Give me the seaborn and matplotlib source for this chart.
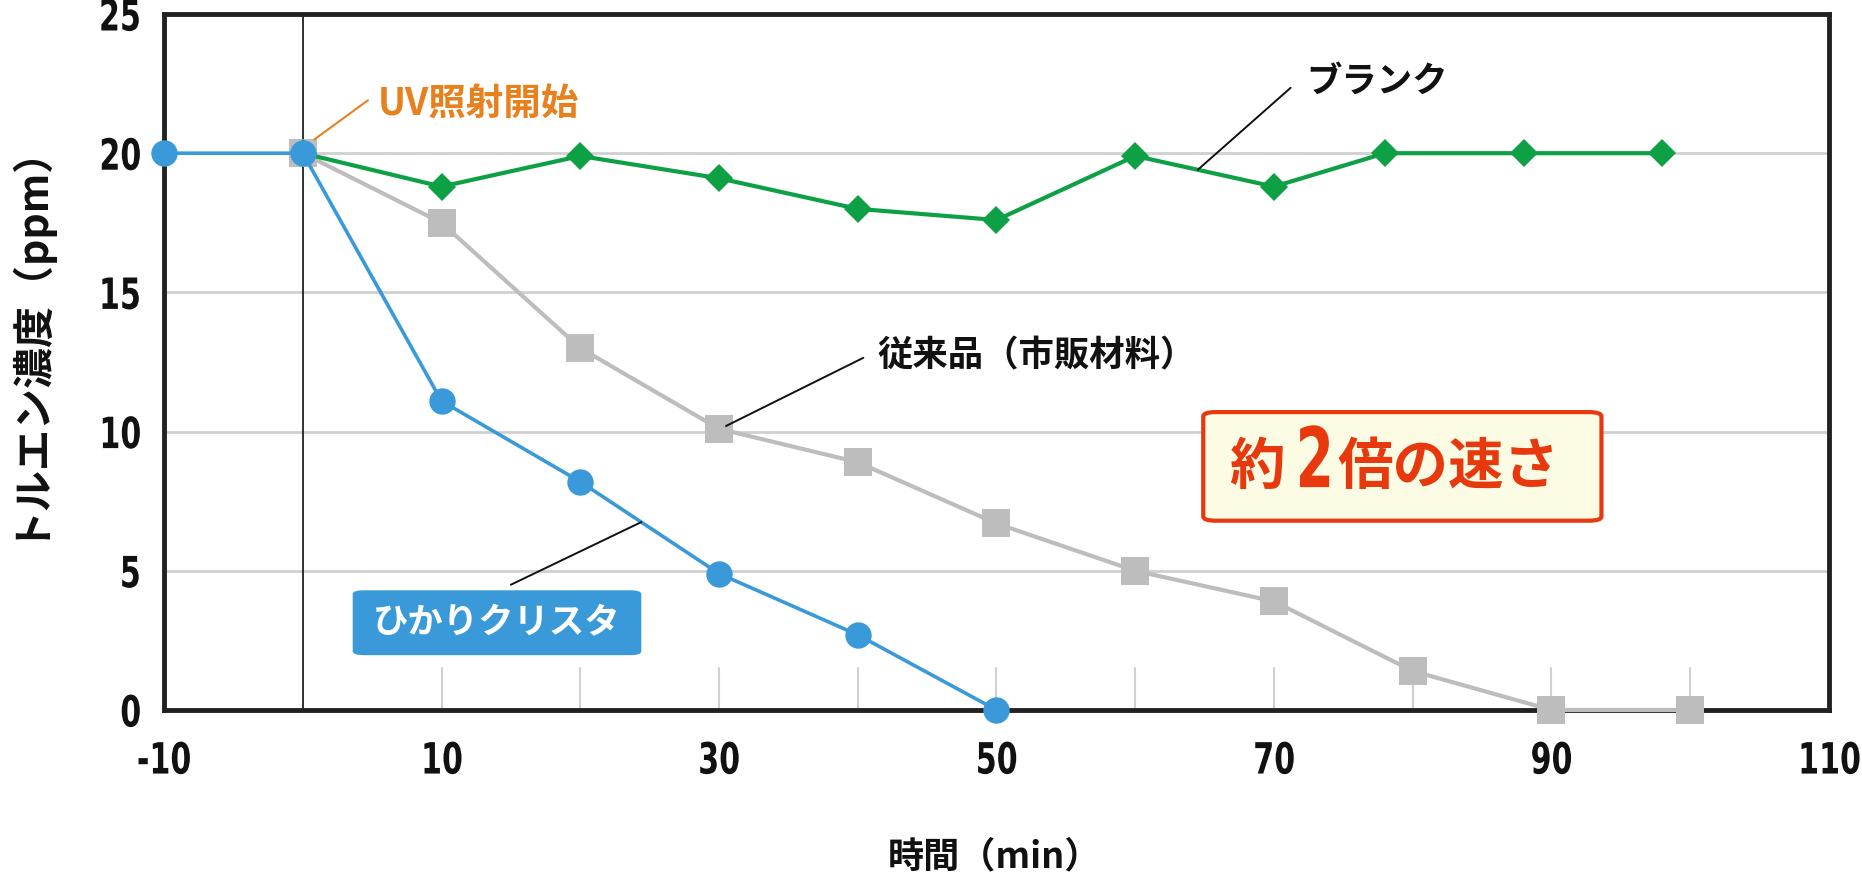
import matplotlib
matplotlib.use("Agg")
import matplotlib.pyplot as plt
import seaborn as sns
import pandas as pd
from matplotlib.patches import FancyBboxPatch
from matplotlib.patheffects import AbstractPathEffect
from matplotlib.transforms import Affine2D

# ---- data ----
hikari_x = [-10, 0, 10, 20, 30, 40, 50]
hikari_y = [20, 20, 11.1, 8.2, 4.9, 2.7, 0]
conv_x = [0, 10, 20, 30, 40, 50, 60, 70, 80, 90, 100]
conv_y = [20, 17.5, 13.0, 10.1, 8.9, 6.7, 5.0, 3.9, 1.4, 0, 0]
blank_x = [0, 10, 20, 30, 40, 50, 60, 70, 78, 88, 98]
blank_y = [20, 18.8, 19.9, 19.1, 18.0, 17.6, 19.9, 18.8, 20, 20, 20]
xticks = [-10, 10, 30, 50, 70, 90, 110]
yticks = [0, 5, 10, 15, 20, 25]
minor_x = [10, 20, 30, 40, 50, 60, 70, 80, 90, 100]

BLUE = "#3A9AD9"
GREEN = "#0EA045"
GRAY = "#BDBDBD"
ORANGE = "#E8801E"
RED = "#E8380D"


class HScale(AbstractPathEffect):
    """Condense glyphs horizontally (text stays real text)."""
    def __init__(self, s, anchor="center"):
        super().__init__()
        self.s = s
        self.anchor = anchor

    def draw_path(self, renderer, gc, tpath, affine, rgbFace=None):
        ext = tpath.get_extents()
        if self.anchor == "center":
            cx = (ext.x0 + ext.x1) / 2
        elif self.anchor == "right":
            cx = ext.x1
        else:
            cx = ext.x0
        t = Affine2D().translate(-cx, 0).scale(self.s, 1).translate(cx, 0) + affine
        renderer.draw_path(gc, tpath, t, rgbFace)


sns.set_theme(style="white")
plt.rcParams['font.family'] = ['Noto Sans CJK JP', 'DejaVu Sans']

fig = plt.figure(figsize=(18.62, 8.73), dpi=100)
ax = fig.add_axes([164/1862, 163/873, 1665/1862, 696/873])

# grid lines
for yv in [5, 10, 15, 20]:
    ax.axhline(yv, color="#D0D0D0", lw=2, zorder=0)
for xv in minor_x:
    ax.plot([xv, xv], [0, 1.5], color="#D0D0D0", lw=1.5, zorder=0)
ax.axvline(0, color="#222222", lw=1.3, zorder=1)

df_c = pd.DataFrame({"x": conv_x, "y": conv_y})
df_b = pd.DataFrame({"x": blank_x, "y": blank_y})
df_h = pd.DataFrame({"x": hikari_x, "y": hikari_y})

sns.lineplot(data=df_c, x="x", y="y", ax=ax, color=GRAY, lw=3, marker="s",
             markersize=20, markeredgewidth=0, zorder=3, clip_on=False)
sns.lineplot(data=df_b, x="x", y="y", ax=ax, color=GREEN, lw=3, marker="D",
             markersize=14, markeredgewidth=0, zorder=4, clip_on=False)
sns.lineplot(data=df_h, x="x", y="y", ax=ax, color=BLUE, lw=2.6, marker="o",
             markersize=19, markeredgewidth=0, zorder=5, clip_on=False)

ax.set_xlim(-10, 110)
ax.set_ylim(0, 25)
ax.set_xticks(xticks)
ax.set_yticks(yticks)
tick_font = dict(family="DejaVu Sans", weight="bold", size=31)
xt = ax.set_xticklabels([str(v) for v in xticks], **tick_font)
yt = ax.set_yticklabels([str(v) for v in yticks], **tick_font)
for t in xt:
    t.set_path_effects([HScale(0.7, "center")])
for t in yt:
    t.set_path_effects([HScale(0.7, "right")])
ax.tick_params(axis="both", length=0, pad=16, colors="#111111")
ax.tick_params(axis="x", pad=22)
for s in ax.spines.values():
    s.set_color("#222222")
    s.set_linewidth(3.5)
    s.set_zorder(2)

ax.set_xlabel("時間（min）", fontsize=26, weight="bold", color="#111111")
ax.set_ylabel("トルエン濃度（ppm）", fontsize=29.5, weight="bold", color="#111111")
ax.xaxis.set_label_coords(0.4985, -0.185)
ax.yaxis.set_label_coords(-0.071, 0.548)

# annotations
ax.plot([0.85, 4.7], [20.5, 21.9], color=ORANGE, lw=1.5, zorder=6)
ax.text(5.4, 21.75, "UV照射開始", color=ORANGE, fontsize=27, weight="bold", va="center", ha="left")

ax.plot([64.5, 71.2], [19.4, 22.35], color="#111111", lw=1.4, zorder=6)
ax.text(72.3, 22.6, "ブランク", color="#111111", fontsize=25.5, weight="bold", va="center", ha="left")

ax.plot([30.5, 40.4], [10.2, 12.65], color="#111111", lw=1.4, zorder=6)
ax.text(41.4, 12.7, "従来品（市販材料）", color="#111111", fontsize=25.5, weight="bold", va="center", ha="left")

ax.plot([15, 24.4], [4.5, 6.75], color="#111111", lw=1.4, zorder=6)
ax.add_patch(FancyBboxPatch((3.6, 1.97), 20.8, 2.33, boxstyle="round,pad=0,rounding_size=0.8",
                            mutation_aspect=0.17, fc=BLUE, ec="none", zorder=7))
ax.text(14.0, 3.12, "ひかりクリスタ", color="white", fontsize=25.5, weight="bold",
        va="center", ha="center", zorder=8)

ax.add_patch(FancyBboxPatch((64.9, 6.8), 28.7, 3.9, boxstyle="round,pad=0,rounding_size=0.9",
                            mutation_aspect=0.17, fc="#FCFCE4", ec=RED, lw=3, zorder=7))
ax.text(66.8, 8.7, "約", color=RED, fontsize=40, weight="bold", va="center", ha="left", zorder=8)
t2 = ax.text(71.4, 8.85, "2", color=RED, fontsize=60, weight="bold", family="DejaVu Sans",
             va="center", ha="left", zorder=8)
t2.set_path_effects([HScale(0.66, "left")])
ax.text(74.6, 8.7, "倍の速さ", color=RED, fontsize=40, weight="bold", va="center", ha="left", zorder=8)

fig.savefig("out.png", dpi=100, facecolor="white")
